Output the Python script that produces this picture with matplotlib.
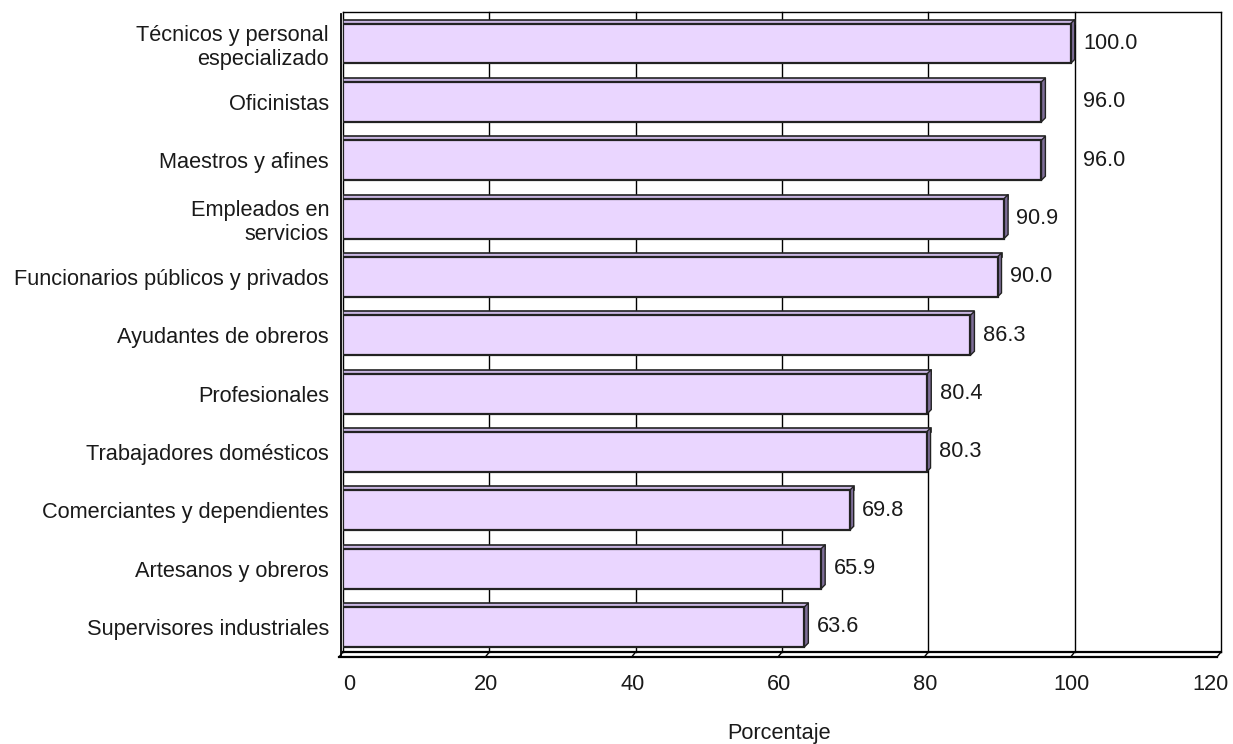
import matplotlib
matplotlib.use("Agg")
import matplotlib.pyplot as plt
from matplotlib.patches import Polygon, Rectangle
from matplotlib.transforms import ScaledTranslation

categories = ["Técnicos y personal\nespecializado", "Oficinistas", "Maestros y afines",
              "Empleados en\nservicios", "Funcionarios públicos y privados",
              "Ayudantes de obreros", "Profesionales", "Trabajadores domésticos",
              "Comerciantes y dependientes", "Artesanos y obreros",
              "Supervisores industriales"]
values = [100.0, 96.0, 96.0, 90.9, 90.0, 86.3, 80.4, 80.3, 69.8, 65.9, 63.6]
xticks = [0, 20, 40, 60, 80, 100, 120]
xlabel = "Porcentaje"

W, H = 1233, 744
fig = plt.figure(figsize=(W / 100, H / 100), dpi=100)
plt.rcParams['font.family'] = ['Liberation Sans', 'DejaVu Sans']
FS = 15.7
TXT = '#1a1a1a'

L, R, T, B = 343, 1221, 12, 657
ax = fig.add_axes([L / W, 1 - B / H, (R - L) / W, (B - T) / H])
n = len(categories)
ypos = list(range(n - 1, -1, -1))  # first category at top
ppu_y = 58.35
ymax = (n - 1) + (43.5 - T) / ppu_y
ymin = 0 - (B - 627) / ppu_y
ax.set_xlim(0, 120)
ax.set_ylim(ymin, ymax)
ppu_x = (R - L) / 120.0
for s in ax.spines.values():
    s.set_visible(False)

# depth
dxp, dyp = 4, 4
dx, dy = dxp / ppu_x, dyp / ppu_y
back_floor = ymin + 5 / ppu_y

# back wall: gridlines and frame
for g in xticks:
    ax.plot([g, g], [back_floor, ymax], color='black', lw=1.0, zorder=1, clip_on=False)
ax.plot([0, 120], [ymax, ymax], color='black', lw=1.0, zorder=1, clip_on=False)
# left wall
ax.plot([-dx * 0.5, -dx * 0.5], [ymin, ymax - 0.03], color='black', lw=1.3, zorder=1, clip_on=False)
# floor
ax.plot([0, 120], [back_floor, back_floor], color='black', lw=1.6, zorder=1, clip_on=False)
ax.plot([-dx, 120 - dx], [ymin, ymin], color='black', lw=1.6, zorder=1, clip_on=False)
for g in xticks:
    ax.plot([g, g - dx], [back_floor, ymin], color='black', lw=1.0, zorder=1, clip_on=False)

face = '#EAD6FF'
topc = '#C9B6E2'
sidec = '#7E6E98'
bh = 0.685
for y, v in zip(ypos, values):
    b0, t0 = y - bh / 2, y + bh / 2
    # top face
    ax.add_patch(Polygon([(0, t0), (v, t0), (v, t0 + dy), (0, t0 + dy)],
                         closed=True, facecolor=topc, edgecolor='#222222', lw=1.2, zorder=3))
    # side face
    ax.add_patch(Polygon([(v - dx, b0), (v, b0 + dy), (v, t0 + dy), (v - dx, t0)],
                         closed=True, facecolor=sidec, edgecolor='#222222', lw=1.0, zorder=3))
    # front face
    ax.add_patch(Rectangle((0, b0), v - dx, bh, facecolor=face, edgecolor='#222222',
                           lw=1.6, zorder=4))

vmax = max(values)
for y, v in zip(ypos, values):
    lx = vmax if v >= vmax - 5 else v
    ax.annotate(f"{v:.1f}", xy=(lx, y), xytext=(6, 0), textcoords='offset points',
                ha='left', va='center', fontsize=FS, color=TXT)

ax.set_xticks(xticks)
ax.set_xticklabels([str(t) for t in xticks])
ax.set_yticks(ypos)
ax.set_yticklabels(categories, ha='right', multialignment='right')
ax.tick_params(axis='x', length=0, pad=12, labelsize=FS, labelcolor=TXT)
ax.tick_params(axis='y', length=0, pad=10, labelsize=FS, labelcolor=TXT)
xl = ax.get_xticklabels()
for i, lab in enumerate(xl):
    if i == 0:
        lab.set_horizontalalignment('left')
        off = 0
    elif i == len(xl) - 1:
        lab.set_horizontalalignment('right')
        off = 8
    else:
        off = -3
    lab.set_transform(lab.get_transform() + ScaledTranslation(off / 100, 0, fig.dpi_scale_trans))

fig.text(779 / W, 1 - 733 / H, xlabel, ha='center', va='center', fontsize=FS, color=TXT)

fig.savefig("out.png", dpi=100)
